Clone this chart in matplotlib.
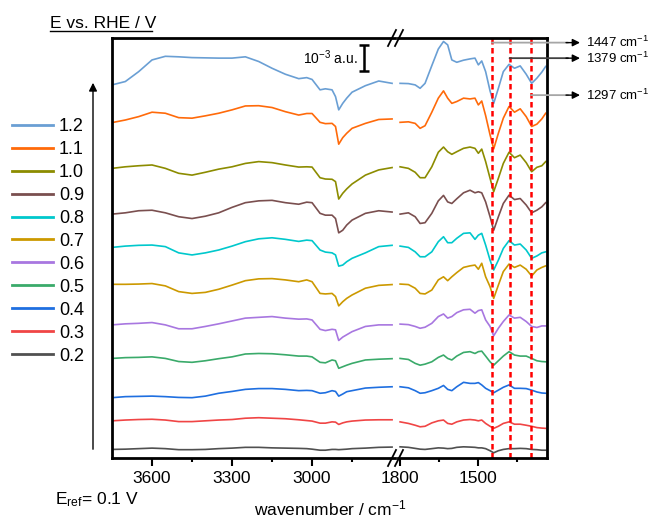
#Stacked in-situ IR spectra at different electrode potentials (broken wavenumber axis)
import matplotlib.pyplot as plt
from matplotlib.lines import Line2D
from matplotlib.patches import FancyArrowPatch

plt.rcParams['font.family'] = ['Liberation Sans', 'DejaVu Sans']
plt.rcParams['mathtext.fontset'] = 'custom'
plt.rcParams['mathtext.rm'] = 'Liberation Sans'
plt.rcParams['mathtext.it'] = 'Liberation Sans:italic'
plt.rcParams['axes.unicode_minus'] = False

potentials = ['1.2', '1.1', '1.0', '0.9', '0.8', '0.7', '0.6', '0.5', '0.4', '0.3', '0.2']
colors = ['#6a9fd4', '#ff6a0a', '#8c8c00', '#7a4f4f', '#00c8cc', '#cc9900',
          '#a877e0', '#3aaa6a', '#1f6fe0', '#f04545', '#505050']
# vertical stacking of each trace, in 10^-3 a.u.
offsets = [14.35, 12.90, 11.14, 9.38, 8.10, 6.68, 5.12, 3.83, 2.32, 1.43, 0.33]

# C-H region (left panel)
hi_wn = [3750, 3700, 3650, 3600, 3550, 3500, 3450, 3400, 3350, 3300, 3250, 3200, 3150, 3100,
         3050, 3020, 3000, 2970, 2950, 2925, 2912, 2900, 2885, 2870, 2850, 2800, 2750, 2700]
hi_12 = [0, 0.13, 0.51, 0.96, 1.10, 1.08, 1.05, 1.04, 1.03, 1.03, 1.08, 0.90, 0.64, 0.41,
         0.24, 0.28, 0.21, -0.19, -0.15, -0.19, -0.45, -0.96, -0.71, -0.51, -0.28, -0.03, 0.15, 0.06]
hi_11 = [0, 0.10, 0.23, 0.40, 0.36, 0.19, 0.17, 0.26, 0.36, 0.49, 0.64, 0.65, 0.58, 0.42,
         0.29, 0.35, 0.35, 0.01, -0.04, -0.03, -0.15, -0.83, -0.58, -0.41, -0.22, -0.03, 0.12, 0.14]
hi_10 = [0, 0.06, 0.10, 0.13, 0, -0.19, -0.26, -0.15, -0.03, 0.06, 0.19, 0.26, 0.22, 0.13,
         0.05, 0.06, 0.05, -0.36, -0.41, -0.42, -0.51, -1.18, -0.96, -0.79, -0.60, -0.26, -0.06, 0.03]
hi_09 = [0, 0.05, 0.13, 0.15, 0.05, -0.10, -0.17, -0.08, 0.05, 0.26, 0.44, 0.51, 0.53, 0.44,
         0.38, 0.46, 0.44, 0.03, -0.04, -0.04, -0.17, -0.72, -0.62, -0.42, -0.23, 0.03, 0.13, 0.08]
hi_08 = [0, 0.05, 0.08, 0.09, 0.03, -0.21, -0.29, -0.21, -0.10, 0.05, 0.22, 0.33, 0.37, 0.31,
         0.23, 0.28, 0.26, -0.10, -0.18, -0.21, -0.29, -0.72, -0.68, -0.55, -0.42, -0.21, 0.03, 0.08]
hi_07 = [0, 0, 0.01, 0.03, -0.06, -0.28, -0.35, -0.31, -0.19, -0.03, 0.14, 0.21, 0.22, 0.17,
         0.10, 0.17, 0.10, -0.35, -0.37, -0.35, -0.47, -0.83, -0.67, -0.54, -0.41, -0.15, -0.04, -0.01]
hi_06 = [0, 0.04, 0.06, 0.09, 0, -0.15, -0.15, -0.06, 0.04, 0.15, 0.26, 0.29, 0.32, 0.26,
         0.22, 0.23, 0.19, -0.17, -0.22, -0.17, -0.19, -0.60, -0.47, -0.38, -0.26, -0.06, 0, 0]
hi_05 = [0, 0.03, 0.04, 0.06, 0, -0.12, -0.15, -0.09, -0.01, 0.06, 0.17, 0.19, 0.18, 0.14,
         0.09, 0.09, 0.06, -0.15, -0.17, -0.06, -0.09, -0.38, -0.32, -0.26, -0.19, -0.06, -0.03, -0.01]
hi_04 = [0, 0.04, 0.05, 0.06, 0.04, 0.01, 0, 0.06, 0.17, 0.24, 0.32, 0.35, 0.35, 0.32,
         0.27, 0.28, 0.27, 0.17, 0.19, 0.27, 0.24, 0.06, 0.14, 0.23, 0.27, 0.37, 0.40, 0.42]
hi_03 = [0, 0.03, 0.05, 0.06, 0.03, -0.03, -0.03, 0, 0.03, 0.05, 0.10, 0.12, 0.10, 0.08,
         0.04, 0.01, -0.01, -0.09, -0.09, -0.04, -0.05, -0.14, -0.08, -0.04, -0.01, 0.03, 0.04, 0.04]
hi_02 = [0, 0.01, 0.03, 0.05, 0.03, -0.01, -0.01, 0, 0.03, 0.05, 0.08, 0.08, 0.06, 0.05,
         0.04, 0.03, 0.01, -0.03, -0.03, 0, 0, -0.01, 0, 0.01, 0.03, 0.05, 0.08, 0.09]

# fingerprint region (right panel)
lo_wn = [1800, 1768, 1742, 1723, 1704, 1678, 1653, 1633, 1617, 1601, 1582, 1556, 1531, 1512, 1499,
         1486, 1471, 1454, 1440, 1422, 1403, 1381, 1360, 1338, 1315, 1294, 1274, 1255, 1240]
lo_12 = [0.06, 0.05, 0, -0.13, 0.06, 0.74, 1.38, 1.67, 1.54, 0.96, 0.87, 0.95, 1.00, 1.03, 0.77,
         0.92, 0.51, -0.23, -0.71, -0.13, 0.51, 0.79, 0.64, 0.73, 0.41, 0.06, 0.26, 0.49, 0.71]
lo_11 = [0.01, 0.03, -0.03, -0.22, -0.12, 0.40, 0.94, 1.22, 0.94, 0.74, 0.81, 0.94, 0.91, 0.94, 0.68,
         0.83, 0.27, -0.47, -1.01, -0.41, 0.17, 0.62, 0.40, 0.53, 0.23, -0.15, -0.06, 0.14, 0.36]
lo_10 = [0.06, 0, -0.15, -0.36, -0.36, 0.06, 0.62, 0.82, 0.64, 0.54, 0.64, 0.77, 0.82, 0.77, 0.58,
         0.74, 0.26, -0.38, -0.90, -0.38, 0.19, 0.62, 0.41, 0.51, 0.22, -0.13, 0.04, 0.10, 0.26]
lo_09 = [0, 0.05, -0.10, -0.36, -0.33, 0.03, 0.51, 0.72, 0.47, 0.41, 0.59, 0.82, 0.92, 0.82, 0.86,
         0.82, 0.47, -0.10, -0.62, -0.10, 0.41, 0.73, 0.56, 0.60, 0.35, 0.05, 0.15, 0.28, 0.44]
lo_08 = [0.05, 0, -0.17, -0.36, -0.36, -0.17, 0.22, 0.41, 0.18, 0.18, 0.35, 0.54, 0.56, 0.31, 0.47,
         0.54, 0.09, -0.49, -0.87, -0.49, -0.04, 0.26, 0.09, 0.13, -0.10, -0.42, -0.33, -0.21, -0.17]
lo_07 = [0.01, -0.01, -0.15, -0.35, -0.37, -0.22, 0.17, 0.29, 0.14, 0.29, 0.45, 0.65, 0.71, 0.74, 0.58,
         0.81, 0.29, -0.09, -0.54, -0.03, 0.49, 0.78, 0.65, 0.74, 0.58, 0.32, 0.55, 0.65, 0.71]
lo_06 = [0.03, 0.01, -0.06, -0.13, -0.09, 0.06, 0.32, 0.42, 0.26, 0.32, 0.47, 0.58, 0.60, 0.45, 0.55,
         0.58, 0.19, -0.06, -0.42, -0.13, 0.13, 0.38, 0.26, 0.29, 0.13, -0.06, -0.10, -0.04, -0.04]
lo_05 = [0, -0.04, -0.19, -0.26, -0.22, -0.13, 0.04, 0.13, 0, -0.06, 0.09, 0.23, 0.26, 0.19, 0.26,
         0.28, 0.09, -0.13, -0.26, -0.09, 0.09, 0.26, 0.13, 0.09, 0.09, 0, -0.09, -0.12, -0.13]
lo_04 = [0.42, 0.38, 0.27, 0.17, 0.19, 0.27, 0.36, 0.47, 0.32, 0.27, 0.42, 0.59, 0.55, 0.55, 0.58,
         0.49, 0.36, 0.27, 0.19, 0.29, 0.40, 0.49, 0.36, 0.36, 0.35, 0.29, 0.22, 0.18, 0.17]
lo_03 = [-0.04, -0.10, -0.17, -0.23, -0.21, -0.08, 0, 0.03, -0.10, -0.13, -0.04, 0.03, 0.05, 0.03, 0,
         0.03, -0.10, -0.21, -0.29, -0.21, -0.10, -0.04, -0.13, -0.13, -0.17, -0.21, -0.26, -0.28, -0.29]
lo_02 = [0.10, 0.08, 0.04, 0.01, 0, 0.03, 0.06, 0.05, 0.03, 0.04, 0.08, 0.10, 0.09, 0.08, 0.06,
         0.06, 0.03, -0.05, -0.13, -0.05, 0, 0.03, 0.03, 0.04, 0.03, 0, -0.01, -0.03, -0.03]

hi_traces = [hi_12, hi_11, hi_10, hi_09, hi_08, hi_07, hi_06, hi_05, hi_04, hi_03, hi_02]
lo_traces = [lo_12, lo_11, lo_10, lo_09, lo_08, lo_07, lo_06, lo_05, lo_04, lo_03, lo_02]

marked_bands = [1447, 1379, 1297]
band_label_y = [0.989, 0.952, 0.864]
band_line_colors = ['#a6a6a6', '#404040', '#a6a6a6']

W, H = 651, 520
fig = plt.figure(figsize=(W / 100, H / 100), dpi=100)
ax1 = fig.add_axes([112 / W, 62 / H, (395 - 112) / W, 420 / H])
ax2 = fig.add_axes([398 / W, 62 / H, (547 - 398) / W, 420 / H])

for off, c, p, hi, lo in zip(offsets, colors, potentials, hi_traces, lo_traces):
    ax1.plot(hi_wn, [off + v for v in hi], color=c, lw=1.2, label=p)
    ax2.plot(lo_wn, [off + v for v in lo], color=c, lw=1.2)

for b in marked_bands:
    ax2.axvline(b, color='red', lw=1.8, ls=(0, (2.2, 1.4)))

ax1.set_xlim(3750, 2689)
ax2.set_xlim(1808, 1235)
for ax in (ax1, ax2):
    ax.set_ylim(0, 420 / 26)
    ax.set_yticks([])
    for s in ax.spines.values():
        s.set_linewidth(2)
    ax.tick_params(axis='x', which='major', direction='out', length=6, width=1.5, labelsize=12.5)
    ax.tick_params(axis='x', which='minor', direction='out', length=3, width=1.5)
ax1.spines['right'].set_visible(False)
ax2.spines['left'].set_visible(False)
ax1.set_xticks([3600, 3300, 3000])
ax1.set_xticks([3450, 3150, 2850], minor=True)
ax2.set_xticks([1800, 1500])
ax2.set_xticks([1650, 1350], minor=True)

# break marks
for yb in (30, 450):
    for dx in (0, 7):
        fig.add_artist(Line2D([388 + dx, 396 + dx], [H - yb - 16, H - yb], transform=None,
                              color='black', lw=1.3))

# scale bar
ax1.errorbar([2805], [15.38], yerr=[0.5], color='black', lw=1.8, capsize=3.5, capthick=1.8)
ax1.text(2828, 15.38, '10$^{-3}$ a.u.', ha='right', va='center', fontsize=10)

# band labels with arrows
for b, yf, lc in zip(marked_bands, band_label_y, band_line_colors):
    yp = 62 + yf * 420
    ax2.annotate('', xy=(568, yp), xycoords='figure pixels', xytext=(b, yf),
                 textcoords=('data', 'axes fraction'),
                 arrowprops=dict(arrowstyle='-', color=lc, lw=1.3, shrinkA=0, shrinkB=0))
    ax2.annotate('', xy=(580, yp), xycoords='figure pixels', xytext=(566, yp),
                 textcoords='figure pixels',
                 arrowprops=dict(arrowstyle='-|>', color='black', lw=1, mutation_scale=11,
                                 shrinkA=0, shrinkB=0))
    fig.text(586 / W, yp / H, '%d cm$^{-1}$' % b, ha='left', va='center', fontsize=9.5)

# potential axis
fig.add_artist(FancyArrowPatch((93, H - 452), (93, H - 80), transform=None,
                               arrowstyle='-|>', mutation_scale=12, color='black', lw=1))

leg = fig.legend(loc='upper left', bbox_to_anchor=(12 / W, 1 - 118 / H), frameon=False,
                 fontsize=13, handlelength=2.25, handletextpad=0.35, labelspacing=0.33,
                 borderpad=0, borderaxespad=0)
for l in leg.get_lines():
    l.set_linewidth(2)

fig.text(50 / W, (H - 28) / H, 'E vs. RHE / V', ha='left', va='baseline', fontsize=12.5)
fig.add_artist(Line2D([50, 152], [H - 31, H - 31], transform=None, color='black', lw=1))
fig.text(55 / W, (H - 500) / H, r'E$_{\rm ref}$= 0.1 V', ha='left', va='center', fontsize=12.5)
fig.text(330 / W, (H - 508) / H, 'wavenumber / cm$^{-1}$', ha='center', va='center', fontsize=12.5)

fig.savefig('out.png', dpi=100)
